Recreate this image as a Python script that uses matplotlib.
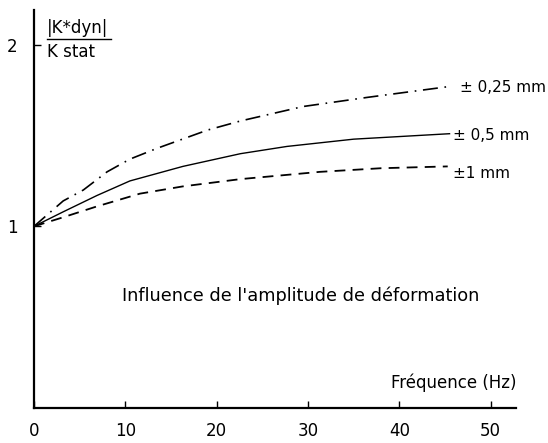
import matplotlib.pyplot as plt

# frequency (Hz) and |K*dyn|/K stat
freq_025 = [0, 3.2, 5.4, 8.0, 10.5, 13.5, 19, 22.6, 29.5, 36.5, 45.5]
ratio_025 = [1.0, 1.14, 1.20, 1.30, 1.37, 1.43, 1.53, 1.58, 1.66, 1.71, 1.77]

freq_05 = [0, 3.2, 6.9, 10.5, 16.3, 22.6, 27.7, 35, 45.5]
ratio_05 = [1.0, 1.08, 1.17, 1.25, 1.33, 1.40, 1.44, 1.48, 1.51]

freq_1 = [0, 3.2, 6.9, 11.6, 16.3, 22.6, 31.3, 38, 45.3]
ratio_1 = [1.0, 1.05, 1.11, 1.18, 1.22, 1.26, 1.30, 1.32, 1.33]

labels = ["± 0,25 mm", "± 0,5 mm", "±1 mm"]
xticks = [0, 10, 20, 30, 40, 50]
yticks = [1, 2]

plt.rcParams['font.family'] = ['DejaVu Sans']
fs = 12

fig = plt.figure(figsize=(5.48, 4.43), dpi=100)
ax = fig.add_axes([0.062, 0.079, 0.88, 0.898])

ax.plot(freq_025, ratio_025, color='black', lw=1.2, linestyle=(0, (9, 4, 1, 4)))
ax.plot(freq_05, ratio_05, color='black', lw=1.0)
ax.plot(freq_1, ratio_1, color='black', lw=1.3, linestyle=(0, (6, 4)))

ax.text(46.6, 1.767, labels[0], fontsize=11, va='center')
ax.text(45.9, 1.50, labels[1], fontsize=11, va='center')
ax.text(45.9, 1.29, labels[2], fontsize=11, va='center')

ax.text(9.6, 0.62, "Influence de l'amplitude de déformation", fontsize=12.8, va='center')
ax.text(52.8, 0.09, "Fréquence (Hz)", fontsize=fs, ha='right', va='bottom')

# fraction label on the y axis
ax.text(1.4, 2.04, "|K*dyn|", fontsize=fs, va='bottom')
ax.plot([1.4, 8.4], [2.03, 2.03], color='black', lw=1.0, clip_on=False)
ax.text(1.4, 2.01, "K stat", fontsize=fs, va='top')

ax.set_xlim(0, 52.8)
ax.set_ylim(0, 2.19)
ax.set_xticks(xticks)
ax.set_yticks(yticks)
ax.tick_params(direction='in', length=5, width=1.0, labelsize=fs)
ax.tick_params(axis='x', pad=10)
ax.tick_params(axis='y', pad=12)
for s in ['top', 'right']:
    ax.spines[s].set_visible(False)
for s in ['left', 'bottom']:
    ax.spines[s].set_linewidth(1.6)

fig.savefig('out.png', dpi=100)
